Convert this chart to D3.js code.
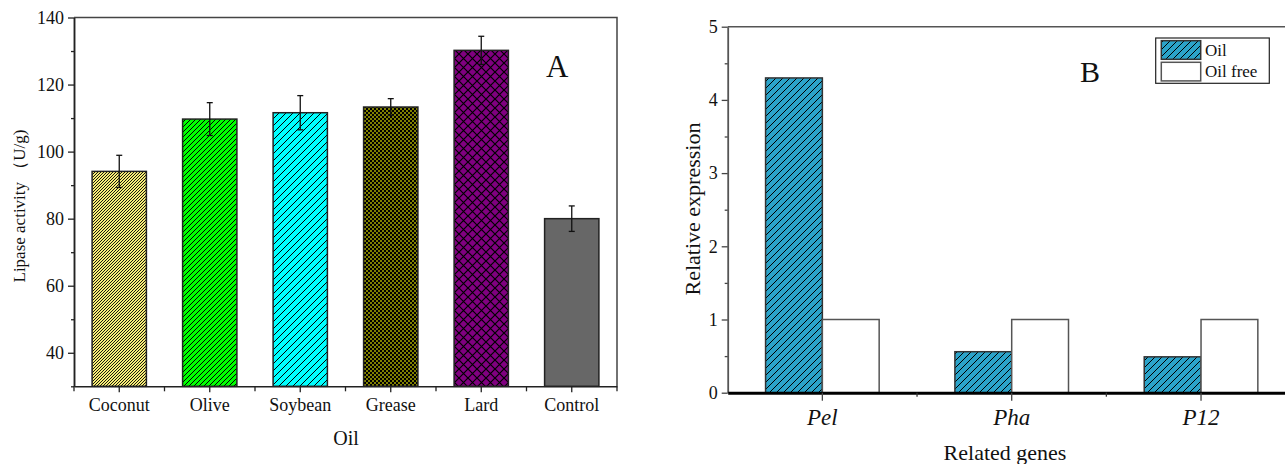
<!DOCTYPE html>
<html><head><meta charset="utf-8">
<script src="https://cdn.jsdelivr.net/npm/d3@7"></script>
<style>
body{margin:0;background:#fff;}
svg{display:block;font-family:"Liberation Serif","Times New Roman",serif;}
</style></head>
<body>
<svg id="chart" width="1285" height="464"></svg>
<script>
// ---- Data: panel A ----
const oils = ["Coconut","Olive","Soybean","Grease","Lard","Control"];
const lipase = [94.1, 109.7, 111.6, 113.3, 130.2, 80.0];
const lipaseErr = [4.8, 4.9, 5.1, 2.5, 4.2, 3.8];
const yTicksA = [40, 60, 80, 100, 120, 140];
const yMinorA = [30, 50, 70, 90, 110, 130];
// ---- Data: panel B ----
const genes = ["Pel","Pha","P12"];
const seriesB = ["Oil","Oil free"];
const oilExpr = [4.3, 0.56, 0.49];
const oilFreeExpr = [1, 1, 1];
const yTicksB = [0, 1, 2, 3, 4, 5];
const yMinorB = [0.5, 1.5, 2.5, 3.5, 4.5];

const svg = d3.select("#chart");
const defs = svg.append("defs");

function hatch(id, color, p, sw) {
  const pt = defs.append("pattern").attr("id", id).attr("patternUnits","userSpaceOnUse")
    .attr("width", p).attr("height", p);
  pt.append("rect").attr("width", p).attr("height", p).attr("fill", color);
  pt.append("path").attr("d", `M0,${p} L${p},0 M${-p/2},${p/2} L${p/2},${-p/2} M${p/2},${p*1.5} L${p*1.5},${p/2}`)
    .attr("stroke","#000").attr("stroke-width", sw);
}
hatch("pCoconut", "#F8EE78", 3, 0.9);
hatch("pOlive", "#00FF00", 5, 1);
hatch("pSoy", "#00FFFF", 7, 1);
hatch("pOilB", "#2BA3C9", 7, 1);
// grease checker
{
  const pt = defs.append("pattern").attr("id","pGrease").attr("patternUnits","userSpaceOnUse").attr("width",4).attr("height",4);
  pt.append("rect").attr("width",4).attr("height",4).attr("fill","#000");
  pt.append("rect").attr("width",2).attr("height",2).attr("fill","#808000");
  pt.append("rect").attr("x",2).attr("y",2).attr("width",2).attr("height",2).attr("fill","#808000");
}
// lard crosshatch
{
  const p = 9;
  const pt = defs.append("pattern").attr("id","pLard").attr("patternUnits","userSpaceOnUse").attr("width",p).attr("height",p);
  pt.append("rect").attr("width",p).attr("height",p).attr("fill","#800080");
  pt.append("path").attr("d",`M0,0 L${p},${p} M0,${p} L${p},0`).attr("stroke","#000").attr("stroke-width",1.2);
}
const fillsA = ["url(#pCoconut)","url(#pOlive)","url(#pSoy)","url(#pGrease)","url(#pLard)","#676767"];

// ================= Panel A =================
const A = {l: 74, r: 617, t: 17.5, b: 386.3};
const xA = d3.scaleBand().domain(oils).range([A.l, A.r]).paddingInner(0.4).paddingOuter(0.2);
const yA = d3.scaleLinear().domain([30, 140]).range([A.b, A.t]);
const gA = svg.append("g");

gA.append("path").attr("d", `M${A.l},${A.t} H${A.r} V${A.b}`).attr("fill","none").attr("stroke","#444").attr("stroke-width",1.5);

gA.selectAll("rect.bar").data(oils).join("rect")
  .attr("x", d => xA(d)).attr("width", xA.bandwidth())
  .attr("y", (d,i) => yA(lipase[i])).attr("height", (d,i) => yA(30) - yA(lipase[i]))
  .attr("fill", (d,i) => fillsA[i]).attr("stroke","#222").attr("stroke-width",1.5);

const eb = gA.selectAll("g.eb").data(oils).join("g").attr("stroke","#111").attr("stroke-width",1.3);
eb.append("line").attr("x1", d => xA(d)+xA.bandwidth()/2).attr("x2", d => xA(d)+xA.bandwidth()/2)
  .attr("y1", (d,i) => yA(lipase[i]+lipaseErr[i])).attr("y2", (d,i) => yA(lipase[i]-lipaseErr[i]));
eb.append("line").attr("x1", d => xA(d)+xA.bandwidth()/2-3).attr("x2", d => xA(d)+xA.bandwidth()/2+3)
  .attr("y1", (d,i) => yA(lipase[i]+lipaseErr[i])).attr("y2", (d,i) => yA(lipase[i]+lipaseErr[i]));
eb.append("line").attr("x1", d => xA(d)+xA.bandwidth()/2-3).attr("x2", d => xA(d)+xA.bandwidth()/2+3)
  .attr("y1", (d,i) => yA(lipase[i]-lipaseErr[i])).attr("y2", (d,i) => yA(lipase[i]-lipaseErr[i]));

gA.append("g").attr("transform", `translate(${A.l},0)`)
  .call(d3.axisLeft(yA).tickValues(yTicksA).tickSize(6).tickSizeOuter(0).tickPadding(4));
gA.append("g").attr("transform", `translate(${A.l},0)`)
  .call(d3.axisLeft(yA).tickValues(yMinorA).tickSize(3).tickFormat("").tickSizeOuter(0));
gA.append("g").attr("transform", `translate(0,${A.b})`)
  .call(d3.axisBottom(xA).tickSize(6).tickSizeOuter(0).tickPadding(6));
const boundsA = d3.range(oils.length + 1).map(i => A.l + i * xA.step());
gA.append("g").selectAll("line").data(boundsA).join("line")
  .attr("x1", d => d).attr("x2", d => d).attr("y1", A.b).attr("y2", A.b + 5)
  .attr("stroke","#222").attr("stroke-width",1.3);
gA.selectAll(".domain").attr("stroke","#222").attr("stroke-width",1.5);
gA.selectAll(".tick line").attr("stroke","#222").attr("stroke-width",1.3);
gA.selectAll(".tick text").attr("font-family","Liberation Serif").attr("font-size",18).attr("fill","#111");

gA.append("text").attr("transform", `translate(25,206) rotate(-90)`).attr("text-anchor","middle")
  .attr("font-size",17).attr("fill","#111").text("Lipase activity （U/g)");
gA.append("text").attr("x", 346).attr("y", 445).attr("text-anchor","middle")
  .attr("font-size",20).attr("fill","#111").text("Oil");
gA.append("text").attr("x", 546).attr("y", 77).attr("font-size",31).attr("fill","#111").text("A");

// ================= Panel B =================
const B = {l: 727.7, r: 1295.7, t: 26.7, b: 392.7};
const xB = d3.scaleBand().domain(genes).range([B.l, B.r]).paddingInner(0.4).paddingOuter(0.2);
const xB1 = d3.scaleBand().domain(seriesB).range([0, xB.bandwidth()]).padding(0);
const yB = d3.scaleLinear().domain([0, 5]).range([B.b, B.t]);
const gB = svg.append("g");

gB.append("path").attr("d", `M${B.l},${B.t} H${B.r} V${B.b}`).attr("fill","none").attr("stroke","#555").attr("stroke-width",1.5);

const valsB = [oilExpr, oilFreeExpr];
const fillsB = ["url(#pOilB)", "#fff"];
const strokesB = ["#333", "#555"];
seriesB.forEach((s, si) => {
  gB.append("g").selectAll("rect").data(genes).join("rect")
    .attr("x", d => xB(d) + xB1(s)).attr("width", xB1.bandwidth())
    .attr("y", (d,i) => yB(valsB[si][i])).attr("height", (d,i) => yB(0) - yB(valsB[si][i]))
    .attr("fill", fillsB[si]).attr("stroke", strokesB[si]).attr("stroke-width", 1.5);
});

const yAxB = gB.append("g").attr("transform", `translate(${B.l},0)`)
  .call(d3.axisLeft(yB).tickValues(yTicksB).tickFormat(d3.format("d")).tickSize(6).tickSizeOuter(0).tickPadding(4))
  .call(g => g.selectAll(".domain").attr("stroke","#555").attr("stroke-width",1.8));
yAxB.selectAll(".tick text").attr("font-size",18);
gB.append("g").attr("transform", `translate(${B.l},0)`)
  .call(d3.axisLeft(yB).tickValues(yMinorB).tickSize(3).tickFormat("").tickSizeOuter(0))
  .call(g => g.selectAll(".domain").remove());
const xAxB = gB.append("g").attr("transform", `translate(0,${B.b})`)
  .call(d3.axisBottom(xB).tickSize(8).tickSizeOuter(0).tickPadding(8));
xAxB.selectAll(".domain").attr("stroke","#000").attr("stroke-width",3);
xAxB.selectAll(".tick text").attr("font-style","italic").attr("font-size",23);
const boundsB = d3.range(1, genes.length).map(i => B.l + i * xB.step());
gB.append("g").selectAll("line").data(boundsB).join("line")
  .attr("x1", d => d).attr("x2", d => d).attr("y1", B.b).attr("y2", B.b + 4)
  .attr("stroke","#333").attr("stroke-width",1.3);
gB.selectAll(".tick line").attr("stroke","#444").attr("stroke-width",1.3);
gB.selectAll(".tick text").attr("font-family","Liberation Serif").attr("fill","#111");

gB.append("text").attr("transform", `translate(700,209) rotate(-90)`).attr("text-anchor","middle")
  .attr("font-size",22).attr("fill","#111").text("Relative expression");
gB.append("text").attr("x", 1005).attr("y", 460).attr("text-anchor","middle")
  .attr("font-size",22).attr("fill","#111").text("Related genes");
gB.append("text").attr("x", 1080).attr("y", 82).attr("font-size",30).attr("fill","#111").text("B");

const lg = gB.append("g");
lg.append("rect").attr("x",1155.7).attr("y",38).attr("width",113.6).attr("height",45.3)
  .attr("fill","#fff").attr("stroke","#222").attr("stroke-width",1.2);
seriesB.forEach((s, si) => {
  lg.append("rect").attr("x",1161.3).attr("y",40.7 + si*21.6).attr("width",39.4).attr("height",18.6)
    .attr("fill", fillsB[si]).attr("stroke", strokesB[si]).attr("stroke-width",1.5);
  lg.append("text").attr("x",1205).attr("y",55.5 + si*21.6).attr("font-size",17).attr("fill","#111").text(s);
});
</script>
</body></html>
